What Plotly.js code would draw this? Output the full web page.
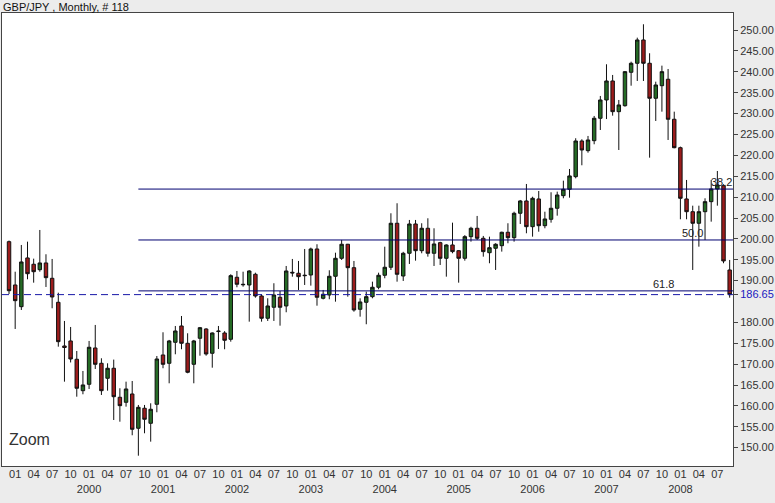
<!DOCTYPE html>
<html>
<head>
<meta charset="utf-8">
<script src="https://cdn.plot.ly/plotly-3.0.1.min.js"></script>
<style>
html,body{margin:0;padding:0;background:#ececec;}
#chart{width:775px;height:503px;}
</style>
</head>
<body>
<div id="chart"></div>
<script>
// Monthly GBP/JPY candles, Dec 1998 .. Sep 2008 (118 bars)
const startYear = 1998, startMonth = 12, barCount = 118;
const months = [];
for (let i = 0; i < barCount; i++) {
  const m = (startMonth - 1 + i) % 12 + 1;
  const y = startYear + Math.floor((startMonth - 1 + i) / 12);
  months.push(y + '-' + (m < 10 ? '0' + m : '' + m));
}

const openVals = [
  199.33,188.96,183.76,195.43,193.92,192.62,194.23,190.56,184.81,174.35,175.55,171.16,
  163.64,165.17,173.87,170.20,166.61,169.01,162.06,160.86,162.85,154.64,159.43,155.83,
  160.38,172.19,170.20,175.23,179.14,174.99,169.96,176.19,178.42,172.60,177.80,177.46,
  175.95,190.80,189.00,188.96,191.52,186.32,180.98,183.62,186.01,183.93,192.00,191.76,
  191.30,191.35,197.58,185.77,186.56,191.04,195.35,198.71,193.10,183.14,184.81,186.16,
  188.41,191.28,193.20,203.74,191.11,196.55,203.57,197.17,202.54,196.55,199.09,195.35,
  198.54,197.17,195.35,200.53,202.54,200.14,196.69,197.75,198.37,201.58,200.29,206.13,
  209.08,202.92,209.56,203.16,204.69,207.33,210.35,211.88,214.90,223.45,221.13,223.52,
  228.89,233.27,237.82,230.47,231.90,239.90,242.06,247.64,242.06,233.68,236.69,238.23,
  228.65,221.84,209.56,206.51,203.74,206.51,208.91,211.95,212.74,192.55
];
const highVals = [
  199.60,192.14,198.54,199.33,195.26,202.13,196.31,195.19,187.11,180.34,178.90,173.15,
  168.36,175.55,179.38,171.40,170.20,171.09,164.22,165.80,165.96,160.22,160.22,160.62,
  171.95,177.63,175.80,179.14,181.53,177.39,175.80,178.90,178.60,177.60,179.14,177.90,
  191.52,192.31,192.14,192.50,191.90,186.73,185.77,189.37,187.52,193.51,195.19,194.71,
  197.58,197.90,198.71,187.76,192.48,196.69,199.74,198.80,194.71,185.77,187.36,189.75,
  191.90,198.13,206.13,208.53,196.90,204.53,204.53,203.74,204.93,202.54,199.30,198.70,
  203.88,197.30,200.90,202.90,205.49,200.70,200.53,198.95,201.72,203.74,206.51,209.32,
  213.15,210.10,211.47,206.51,211.16,211.31,213.94,216.74,224.10,223.86,224.65,229.44,
  234.23,241.82,239.26,233.27,240.20,242.44,248.19,251.40,244.46,237.65,241.49,240.69,
  230.47,222.10,214.11,207.95,207.95,209.72,214.11,216.26,213.08,194.95
];
const lowVals = [
  186.80,178.42,182.97,190.32,189.51,192.14,188.48,183.38,174.18,165.80,170.40,162.20,
  162.78,164.05,168.84,162.61,163.64,156.62,156.21,159.81,152.96,148.07,153.44,151.43,
  158.47,169.01,165.41,172.36,173.56,167.81,165.41,172.02,172.02,169.15,173.63,173.56,
  175.38,188.41,188.55,180.17,185.92,180.17,180.34,180.34,179.21,182.42,190.95,187.76,
  188.96,188.80,184.00,185.50,185.54,184.96,194.95,186.16,182.56,181.37,179.55,185.77,
  187.93,190.56,192.55,189.75,189.92,193.99,194.78,196.55,195.74,193.51,193.75,190.95,
  196.55,189.51,194.78,199.33,199.74,195.74,194.16,192.55,196.95,198.95,199.33,203.57,
  201.34,200.53,201.72,202.54,203.88,205.56,209.72,209.87,214.50,217.63,220.65,222.66,
  226.08,228.70,229.51,221.29,231.66,236.69,237.82,237.82,219.45,228.24,230.47,223.69,
  221.70,204.69,204.69,192.55,198.13,199.74,204.12,207.95,194.16,185.92
];
const closeVals = [
  187.59,185.20,194.47,191.66,192.14,194.23,190.71,186.08,175.38,173.99,171.23,164.22,
  165.01,174.04,169.96,163.64,169.01,162.20,160.05,164.05,154.40,159.66,156.79,159.19,
  171.23,169.96,175.55,177.94,174.99,168.05,175.55,178.73,172.43,177.46,177.90,175.71,
  191.19,189.13,189.10,192.31,186.32,180.98,183.93,186.56,183.62,192.31,191.85,190.95,
  191.20,197.58,186.01,186.73,191.04,195.35,198.71,193.10,182.97,184.89,186.16,188.41,
  191.28,193.20,203.74,191.52,196.55,203.57,197.17,202.54,196.55,198.78,195.35,198.54,
  196.95,195.35,200.53,202.54,200.14,196.95,197.89,198.71,201.58,200.29,206.13,209.08,
  202.92,209.72,203.16,204.77,207.33,210.51,211.88,215.07,223.45,221.29,223.69,228.89,
  233.27,237.82,230.47,232.07,240.05,242.06,247.64,242.06,233.68,236.86,240.05,228.65,
  221.84,209.72,206.51,203.74,206.51,208.91,211.95,212.91,194.71,186.65
];

const fibRatios = [0.382, 0.5, 0.618];
const fibLabels = ['38.2', '50.0', '61.8'];
const fibLabelPaperX = [0.9836, 0.9446, 0.9056];
const yTickVals = [150,155,160,165,170,175,180,186.65,190,195,200,205,210,215,220,225,230,235,240,245,250];

// derived
let hiIdx = 0, loIdx = 0;
for (let i = 0; i < barCount; i++) {
  if (highVals[i] > highVals[hiIdx]) hiIdx = i;
  if (lowVals[i] < lowVals[loIdx]) loIdx = i;
}
const hi = highVals[hiIdx], lo = lowVals[loIdx];
const lastClose = closeVals[barCount - 1];
const xr = [-1.14, barCount - 1 + 0.54];

const xTickVals = [], xTickText = [];
months.forEach((m, i) => {
  const mm = m.slice(5), yy = m.slice(0, 4);
  if (['01','04','07','10'].includes(mm)) {
    xTickVals.push(m);
    xTickText.push(mm === '01' && i > 2 ? mm + '<br>' + yy : mm);
  }
});
const yTickText = yTickVals.map(v => v === lastClose
  ? '<span style="color:#2020c0">' + v.toFixed(2) + '</span>' : v.toFixed(2));

const trace = {
  type: 'candlestick',
  x: months, open: openVals, high: highVals, low: lowVals, close: closeVals,
  increasing: {line: {color: '#111', width: 1}, fillcolor: '#256b25'},
  decreasing: {line: {color: '#111', width: 1}, fillcolor: '#9c1c1c'},
  whiskerwidth: 0, hoverinfo: 'none', showlegend: false
};

const shapes = [{
  type: 'line', xref: 'paper', x0: 0, x1: 1, yref: 'y', y0: lastClose, y1: lastClose,
  line: {color: '#1818a8', width: 1, dash: '7px,4px'}
}];
const annotations = [];
fibRatios.forEach((r, k) => {
  const lvl = hi - r * (hi - lo);
  shapes.push({type: 'line', xref: 'x', x0: loIdx, x1: xr[1], yref: 'y', y0: lvl, y1: lvl,
    line: {color: '#000070', width: 1}});
  annotations.push({xref: 'paper', x: fibLabelPaperX[k], yref: 'y', y: lvl, yanchor: 'bottom',
    xanchor: 'center', text: fibLabels[k], showarrow: false, borderpad: 0,
    font: {family: 'Liberation Sans, Arial, sans-serif', size: 11, color: '#222'}});
});
annotations.push({xref: 'paper', x: 0, yref: 'paper', y: 1, xanchor: 'left', yanchor: 'bottom',
  text: 'GBP/JPY , Monthly, # 118', showarrow: false, borderpad: 0, yshift: -1,
  font: {family: 'Liberation Sans, Arial, sans-serif', size: 11, color: '#111'}});
annotations.push({xref: 'paper', x: 0.0068, yref: 'paper', y: 0.0574, xanchor: 'left', yanchor: 'middle',
  text: 'Zoom', showarrow: false,
  font: {family: 'Liberation Sans, Arial, sans-serif', size: 16, color: '#333'}});

const layout = {
  width: 775, height: 503,
  margin: {l: 2, r: 42, t: 13, b: 37, pad: 0},
  paper_bgcolor: '#ececec', plot_bgcolor: '#ffffff',
  boxgap: 0.2,
  font: {family: 'Liberation Sans, Arial, sans-serif', size: 11, color: '#333'},
  xaxis: {
    type: 'category', range: xr, rangeslider: {visible: false},
    tickmode: 'array', tickvals: xTickVals, ticktext: xTickText, tickangle: 0,
    showgrid: false, zeroline: false, showline: true, mirror: true, linecolor: '#444', linewidth: 1,
    ticks: '', ticklabelstandoff: -2, tickfont: {size: 11, color: '#333'}, fixedrange: true
  },
  yaxis: {
    side: 'right', range: [145.6, 254.1],
    tickmode: 'array', tickvals: yTickVals, ticktext: yTickText,
    showgrid: false, zeroline: false, showline: true, mirror: true, linecolor: '#444', linewidth: 1,
    ticks: 'outside', ticklen: 4, tickcolor: '#444', tickfont: {size: 11, color: '#333'}, fixedrange: true
  },
  shapes: shapes, annotations: annotations, showlegend: false, hovermode: false
};

Plotly.newPlot('chart', [trace], layout, {displayModeBar: false, staticPlot: true});
</script>
</body>
</html>
